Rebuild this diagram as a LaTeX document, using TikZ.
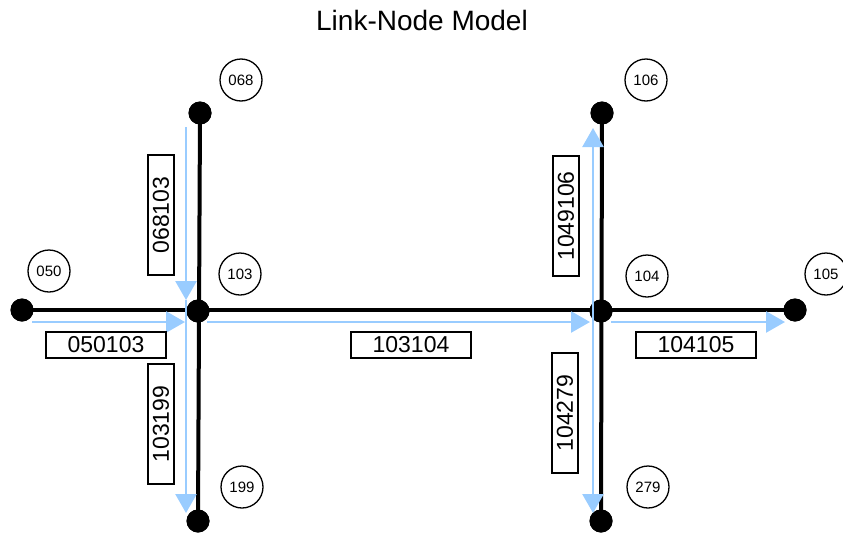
\documentclass[tikz,border=0pt]{standalone}
\usepackage{fontspec}
\setmainfont{Liberation Sans}
\usetikzlibrary{arrows.meta}
\definecolor{flowblue}{RGB}{153,204,255}
\begin{document}
\begin{tikzpicture}[x=1pt,y=-1pt,
  dot/.style={circle,fill=black,inner sep=0pt,minimum size=23pt},
  link/.style={line width=4pt,black},
  flow/.style={line width=2.5pt,flowblue,-{Triangle[length=19pt,width=21pt]}},
  lab/.style={circle,draw=black,line width=1.3pt,fill=white,inner sep=0pt,minimum size=42pt,font=\fontsize{15}{15}\selectfont},
  linkbox/.style={draw=black,line width=1.8pt,fill=white,inner sep=0pt,minimum width=120pt,minimum height=26pt,font=\fontsize{23}{23}\selectfont},
  titletext/.style={font=\fontsize{28}{28}\selectfont}]
\useasboundingbox (0,0) rectangle (843,533);
\node[titletext] (title) at (422,20) {Link-Node Model};
% nodes
\node[dot] (n050) at (22,310) {};
\node[dot] (n103) at (198,311) {};
\node[dot] (n068) at (200,113) {};
\node[dot] (n199) at (198,521) {};
\node[dot] (n104) at (601,311) {};
\node[dot] (n106) at (602,113) {};
\node[dot] (n279) at (601,521) {};
\node[dot] (n105) at (795,310) {};
% links
\draw[link] (n050.center) -- (n105.center);
\draw[link] (n068.center) -- (n199.center);
\draw[link] (n106.center) -- (n279.center);
% redraw dots on top
\foreach \n in {n050,n103,n068,n199,n104,n106,n279,n105}
  \fill (\n.center) circle (11.5pt);
% flows
\draw[flow] ([shift={(10,12)}]n050.center) -- ([shift={(-13,11)}]n103.center);
\draw[flow] ([shift={(-14,14)}]n068.center) -- ([shift={(-12,-11)}]n103.center);
\draw[flow] ([shift={(-12,-11)}]n103.center) -- ([shift={(-12,-8)}]n199.center);
\draw[flow] ([shift={(9,11)}]n103.center) -- ([shift={(-11,11)}]n104.center);
\draw[flow] ([shift={(-8,11)}]n104.center) -- ([shift={(-9,15)}]n106.center);
\draw[flow] ([shift={(-8,-1)}]n104.center) -- ([shift={(-8,-8)}]n279.center);
\draw[flow] ([shift={(10,11)}]n104.center) -- ([shift={(-10,12)}]n105.center);
% link labels
\node[linkbox] (b050103) at (106,345) {050103};
\node[linkbox] (b103104) at (411,345) {103104};
\node[linkbox] (b104105) at (696,345) {104105};
\node[linkbox,rotate=90] (b068103) at (161,215) {068103};
\node[linkbox,rotate=90] (b1049106) at (566,216) {1049106};
\node[linkbox,rotate=90] (b103199) at (161,424) {103199};
\node[linkbox,rotate=90] (b104279) at (565,413) {104279};
% node labels
\node[lab] (l068) at (241,80) {068};
\node[lab] (l106) at (646,80) {106};
\node[lab] (l050) at (49,271) {050};
\node[lab] (l103) at (240,274) {103};
\node[lab] (l104) at (647,276) {104};
\node[lab] (l105) at (826,274) {105};
\node[lab] (l199) at (242,487) {199};
\node[lab] (l279) at (648,487) {279};
\end{tikzpicture}
\end{document}
